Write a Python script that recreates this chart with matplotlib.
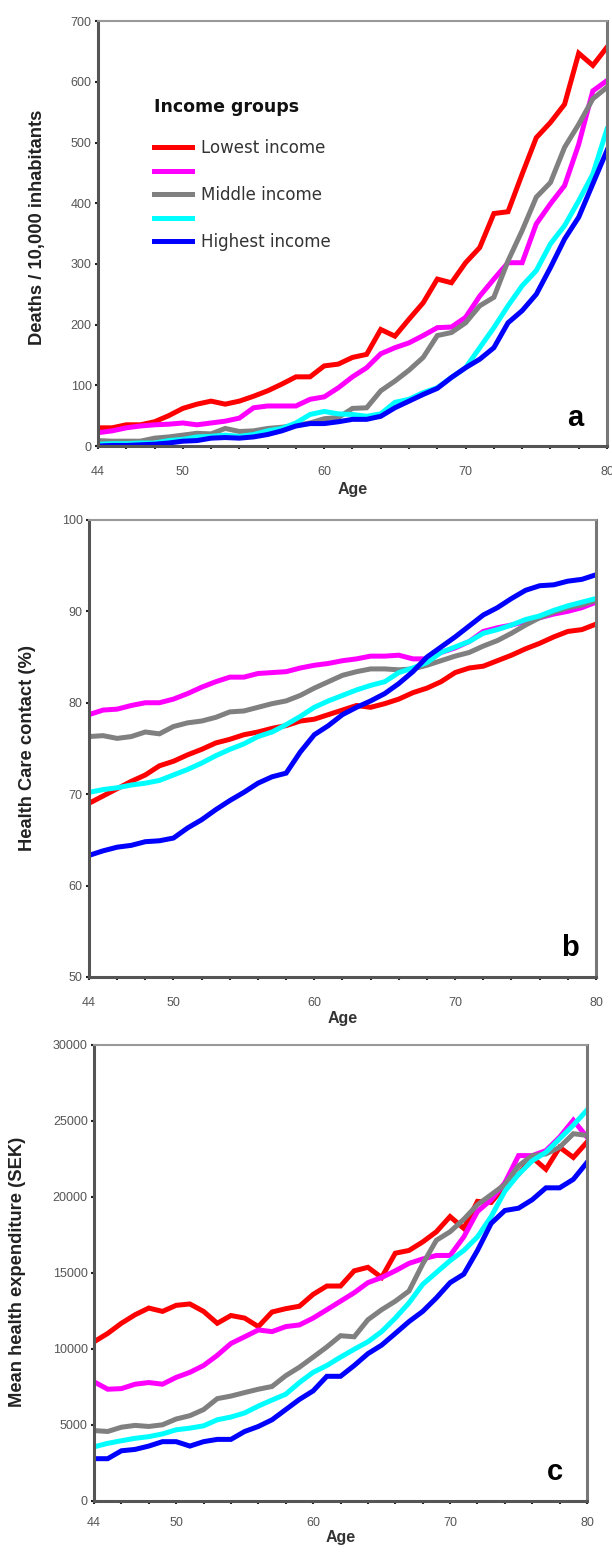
import matplotlib
matplotlib.use("Agg")
import matplotlib.pyplot as plt
import numpy as np

ages = list(range(44, 81))

group_names = ["Lowest income", " ", "Middle income", " ", "Highest income"]
group_colors = ["#ff0000", "#ff00ff", "#808080", "#00ffff", "#0000ff"]

# panel a: deaths / 10,000 inhabitants
deaths_lowest = [30, 30, 35, 35, 40, 50, 62, 69, 74, 69, 74, 82, 91, 102, 114, 114, 132, 135,
                 146, 151, 192, 181, 209, 236, 275, 269, 302, 327, 383, 386, 448, 508, 533,
                 563, 647, 627, 657]
deaths_low = [22, 25, 30, 33, 35, 36, 38, 35, 38, 41, 46, 63, 66, 66, 66, 77, 81, 96, 114, 129,
              152, 162, 170, 182, 195, 196, 212, 247, 275, 302, 302, 366, 399, 429, 497, 585, 602]
deaths_middle = [9, 8, 8, 8, 13, 15, 18, 21, 20, 29, 24, 25, 29, 31, 34, 38, 45, 47, 62, 63, 91,
                 107, 125, 146, 182, 187, 203, 231, 245, 305, 355, 410, 434, 492, 530, 572, 591]
deaths_high = [3, 4, 4, 5, 5, 9, 11, 15, 16, 18, 16, 19, 25, 29, 38, 52, 57, 53, 52, 49, 53, 72,
               77, 88, 96, 113, 129, 162, 195, 231, 264, 289, 333, 363, 404, 448, 522]
deaths_highest = [0, 1, 1, 2, 3, 5, 8, 9, 13, 14, 13, 15, 19, 25, 33, 37, 37, 40, 44, 44, 49, 63,
                  74, 85, 95, 113, 129, 143, 162, 203, 223, 250, 294, 341, 377, 432, 487]

# panel b: health care contact (%)
contact_lowest = [69.0, 69.8, 70.6, 71.4, 72.1, 73.1, 73.6, 74.3, 74.9, 75.6, 76.0, 76.5, 76.8,
                  77.2, 77.5, 78.0, 78.2, 78.7, 79.2, 79.7, 79.5, 79.9, 80.4, 81.1, 81.6, 82.3,
                  83.3, 83.8, 84.0, 84.6, 85.2, 85.9, 86.5, 87.2, 87.8, 88.0, 88.6]
contact_low = [78.7, 79.2, 79.3, 79.7, 80.0, 80.0, 80.4, 81.0, 81.7, 82.3, 82.8, 82.8, 83.2, 83.3,
               83.4, 83.8, 84.1, 84.3, 84.6, 84.8, 85.1, 85.1, 85.2, 84.8, 84.8, 85.5, 86.0,
               86.7, 87.8, 88.2, 88.5, 88.9, 89.3, 89.7, 90.0, 90.4, 91.0]
contact_middle = [76.3, 76.4, 76.1, 76.3, 76.8, 76.6, 77.4, 77.8, 78.0, 78.4, 79.0, 79.1, 79.5,
                  79.9, 80.2, 80.8, 81.6, 82.3, 83.0, 83.4, 83.7, 83.7, 83.6, 83.7, 84.1, 84.6,
                  85.1, 85.5, 86.2, 86.8, 87.6, 88.5, 89.3, 89.9, 90.4, 90.7, 91.2]
contact_high = [70.2, 70.5, 70.7, 71.0, 71.2, 71.5, 72.1, 72.7, 73.4, 74.2, 74.9, 75.5, 76.3,
                76.8, 77.6, 78.5, 79.5, 80.2, 80.8, 81.4, 81.9, 82.3, 83.3, 83.8, 84.4, 85.5,
                86.1, 86.7, 87.6, 88.0, 88.5, 89.1, 89.5, 90.1, 90.6, 91.0, 91.4]
contact_highest = [63.3, 63.8, 64.2, 64.4, 64.8, 64.9, 65.2, 66.3, 67.2, 68.3, 69.3, 70.2, 71.2,
                   71.9, 72.3, 74.6, 76.5, 77.5, 78.7, 79.5, 80.2, 81.0, 82.1, 83.4, 85.0, 86.1,
                   87.2, 88.4, 89.6, 90.4, 91.4, 92.3, 92.8, 92.9, 93.3, 93.5, 94.0]

# panel c: mean health expenditure (SEK)
spend_lowest = [10470, 11020, 11690, 12250, 12690, 12470, 12870, 12960, 12470, 11690, 12200,
                12030, 11470, 12430, 12650, 12810, 13590, 14140, 14140, 15140, 15370, 14700,
                16300, 16480, 17040, 17710, 18710, 17930, 19710, 19640, 20710, 21490, 22600,
                21820, 23270, 22600, 23610]
spend_low = [7840, 7350, 7390, 7680, 7790, 7680, 8130, 8460, 8910, 9580, 10360, 10800, 11250,
             11140, 11470, 11580, 12030, 12580, 13140, 13700, 14360, 14700, 15140, 15630, 15920,
             16150, 16150, 17370, 19040, 19820, 20930, 22720, 22720, 23050, 23940, 25050, 23940]
spend_middle = [4630, 4570, 4850, 4970, 4900, 5010, 5390, 5610, 6010, 6730, 6900, 7130, 7350,
                7530, 8240, 8800, 9460, 10130, 10870, 10800, 11920, 12580, 13140, 13810, 15590,
                17150, 17710, 18530, 19490, 20150, 20820, 22050, 22720, 22830, 23270, 24160, 24050]
spend_high = [3560, 3790, 3960, 4120, 4230, 4410, 4680, 4790, 4940, 5340, 5520, 5790, 6240, 6640,
              7020, 7790, 8460, 8910, 9460, 9980, 10470, 11140, 12030, 13030, 14250, 15030,
              15810, 16480, 17370, 18710, 20380, 21490, 22380, 22940, 23830, 24720, 25720]
spend_highest = [2780, 2780, 3300, 3390, 3610, 3900, 3900, 3610, 3900, 4050, 4050, 4570, 4900,
                 5340, 6010, 6680, 7240, 8200, 8200, 8910, 9690, 10250, 11020, 11800, 12470,
                 13360, 14360, 14920, 16480, 18260, 19110, 19260, 19820, 20600, 20600, 21160, 22270]

panels = [
    ([deaths_lowest, deaths_low, deaths_middle, deaths_high, deaths_highest],
     (0, 700), np.arange(0, 701, 100), "Deaths / 10,000 inhabitants", "a"),
    ([contact_lowest, contact_low, contact_middle, contact_high, contact_highest],
     (50, 100), np.arange(50, 101, 10), "Health Care contact (%)", "b"),
    ([spend_lowest, spend_low, spend_middle, spend_high, spend_highest],
     (0, 30000), np.arange(0, 30001, 5000), "Mean health expenditure (SEK)", "c"),
]

boxes = [
    (0.1601, 0.7126, 0.8317, 0.2738),
    (0.1454, 0.3705, 0.8284, 0.2945),
    (0.1536, 0.0329, 0.8056, 0.2938),
]
letter_pos = [(0.937, 0.066), (0.948, 0.064), (0.935, 0.063)]
ylabel_pos = [(-0.102, 0.514), (-0.104, 0.501), (-0.138, 0.502)]
xlabel_pos = [(0.5, -0.085), (0.5, -0.074), (0.5, -0.064)]
xtick_pad = [12, 12, 9]

fig = plt.figure(figsize=(6.12, 15.52), dpi=100)
plt.rcParams["font.family"] = ["Liberation Sans", "DejaVu Sans"]

for i, (series, ylim, yticks, ylabel, letter) in enumerate(panels):
    ax = fig.add_axes(boxes[i])
    lines = []
    for vals, name, col in zip(series, group_names, group_colors):
        ln, = ax.plot(ages, vals, color=col, lw=3.6, label=name, solid_joinstyle="miter")
        lines.append(ln)
    ax.set_xlim(44, 80)
    ax.set_ylim(*ylim)
    ax.set_xticks([44, 50, 60, 70, 80])
    ax.set_xticks(range(44, 81, 2), minor=True)
    ax.set_yticks(yticks)
    ax.tick_params(axis="both", which="both", direction="out", length=2.5, width=1.5,
                   colors="#222222", labelcolor="#555555", labelsize=9, pad=2)
    ax.tick_params(axis="x", which="major", pad=xtick_pad[i])
    ax.set_xlabel("Age", fontsize=11.5, fontweight="bold", color="#333333")
    ax.xaxis.set_label_coords(*xlabel_pos[i])
    ax.set_ylabel(ylabel, fontsize=13.2, fontweight="bold", color="#222222")
    ax.yaxis.set_label_coords(*ylabel_pos[i])
    for side in ["left", "bottom"]:
        ax.spines[side].set_color("#555555")
        ax.spines[side].set_linewidth(2.2)
    ax.spines["right"].set_color("#777777")
    ax.spines["right"].set_linewidth(2.2)
    ax.spines["top"].set_color("#999999")
    ax.spines["top"].set_linewidth(1.5)
    ax.text(letter_pos[i][0], letter_pos[i][1], letter, transform=ax.transAxes, fontsize=21,
            fontweight="bold", ha="center", va="center")
    if letter == "a":
        ax.text(0.11, 0.798, "Income groups", transform=ax.transAxes, fontsize=12.5,
                fontweight="bold", family="DejaVu Sans", ha="left", va="center",
                color="#111111")
        leg = ax.legend(lines, group_names, loc="upper left", bbox_to_anchor=(0.11, 0.722),
                        frameon=False, handlelength=2.3, handletextpad=0.5, borderpad=0,
                        borderaxespad=0, labelspacing=0.33,
                        prop={"family": "DejaVu Sans", "size": 12})
        for t in leg.get_texts():
            t.set_color("#333333")

fig.savefig("out.png", dpi=100)
